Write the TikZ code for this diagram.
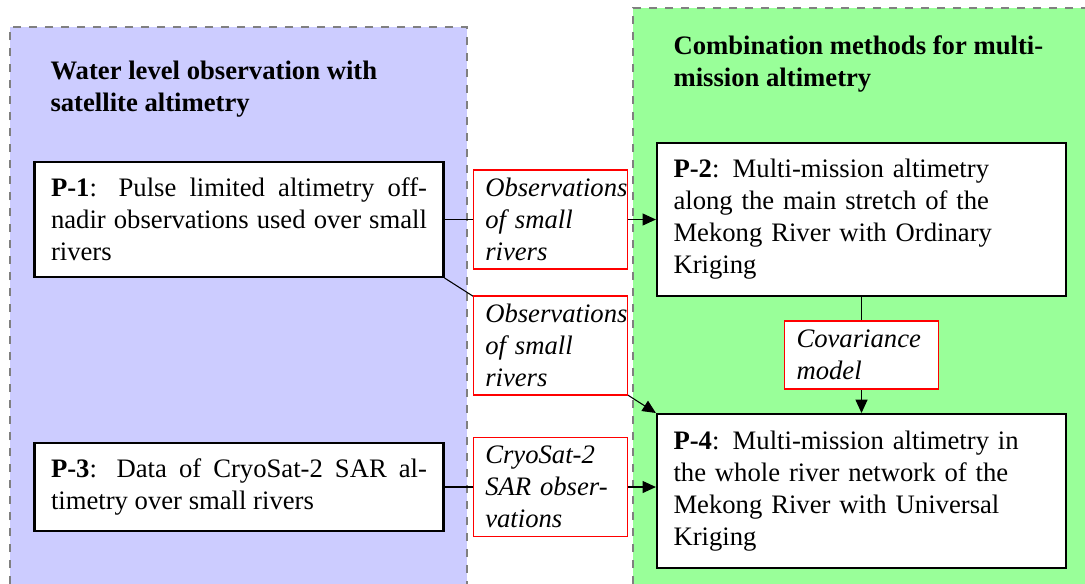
\documentclass[tikz,border=0pt]{standalone}
\usepackage{fontspec}
\setmainfont{Liberation Serif}
\usetikzlibrary{arrows.meta}

\tikzset{
  region/.style={draw=gray, dashed, line width=0.4pt},
  heading/.style={anchor=north west, inner sep=0pt, align=left, font=\bfseries},
  paper/.style={draw, thick, fill=white, text width=141pt, inner xsep=6.2pt, inner ysep=0pt, align=left},
  paperj/.style={paper, align=justify},
  link/.style={color=red, draw, line width=0.5pt, fill=white, text=black, text width=48.75pt, inner xsep=4.5pt, inner ysep=0pt, minimum height=37.2pt, align=left, font=\itshape},
  flow/.style={-{Triangle[length=5pt,width=4.5pt]}}
}

\begin{document}
\begin{tikzpicture}[x=0.375pt,y=-0.375pt]

\useasboundingbox (0,0) rectangle (1085,583);

% groups
\fill[blue!20] (10,27) rectangle (467,600);
\draw[region] (10,600) -- (10,27) -- (467,27) -- (467,600);

\fill[green!40] (633,8) rectangle (1100,600);
\draw[region] (633,600) -- (633,8) -- (1100,8);

\node[heading] (left) at (50,60) {Water level observation with\\satellite altimetry};
\node[heading] (right) at (673,35) {Combination methods for multi-\\mission altimetry};

% papers
\node[paperj, minimum height=43.1pt] (p1) at (239,219.5)
  {\textbf{P-1}: Pulse limited altimetry off-\linebreak nadir observations used over small\linebreak rivers};
\node[paperj, minimum height=33pt] (p3) at (239,487)
  {\textbf{P-3}: Data of CryoSat-2 SAR al-\linebreak timetry over small rivers};
\node[paper, minimum height=57.4pt] (p2) at (861.5,219.5)
  {\textbf{P-2}: Multi-mission altimetry\\along the main stretch of the\\Mekong River with Ordinary\\Kriging};
\node[paper, minimum height=57.7pt] (p4) at (861.5,491)
  {\textbf{P-4}: Multi-mission altimetry in\\the whole river network of the\\Mekong River with Universal\\Kriging};

% links
\draw[flow] (p1.east) -- (p2.west)
  node[link, midway] (obs1) {Observations\\of small\\rivers};
\draw[flow] (p1.south east) -- (p4.north west)
  node[link, midway] (obs2) {Observations\\of small\\rivers};
\draw[flow] (p2.south) -- (p4.north)
  node[link, midway, minimum height=25.5pt] (cov) {Covariance\\model};
\draw[flow] (p3.east) -- (p3.east -| p4.west)
  node[link, midway] (cs2) {CryoSat-2\\SAR obser-\\vations};

\end{tikzpicture}
\end{document}
